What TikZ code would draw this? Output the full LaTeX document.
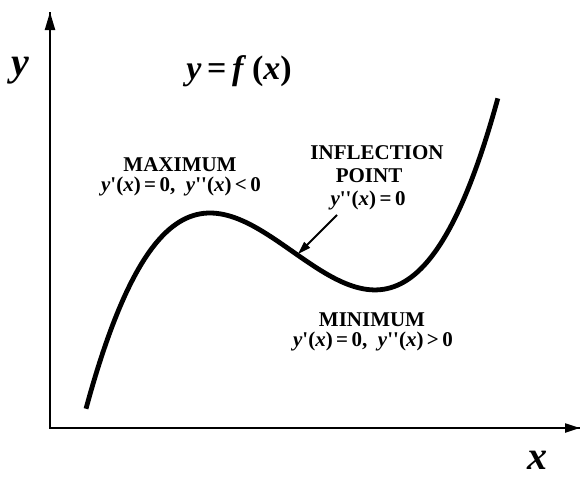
\documentclass[tikz,border=0pt]{standalone}
\usepackage{fontspec}
\newfontfamily\tnr{Liberation Serif}
\usetikzlibrary{arrows.meta}
\newcommand\vi[1]{\textit{#1}}
\begin{document}
\begin{tikzpicture}[x=1pt,y=-1pt,
  lbl/.style={font=\tnr\bfseries\fontsize{21}{23}\selectfont, inner sep=0pt, anchor=base},
  big/.style={font=\tnr\bfseries\itshape\fontsize{40}{44}\selectfont, inner sep=0pt, anchor=base},
  axis/.style={line width=2.2pt},
  curve/.style={line width=4.8pt}]
\useasboundingbox (0,0) rectangle (580,477);
\fill[white] (0,0) rectangle (580,477);
% axes
\coordinate (O) at (50,428);
\coordinate (ytip) at (50,12);
\coordinate (xtip) at (580,428);
\draw[axis] (ytip) -- (O) -- (xtip);
\draw[axis,-{Triangle[length=18pt,width=10pt]}] (50,100) -- (ytip);
\draw[axis,-{Triangle[length=15pt,width=9pt]}] (500,428) -- (xtip);
% curve
\draw[curve] plot[domain=-1.24:2.88,samples=120,smooth] ({210+100*\x},{213-34.27*\x*\x*\x+84.8*\x*\x});
% labels
\node[big] (ylab) at (20,75) {y};
\node[big] (xlab) at (537,469) {x};
\node[font=\tnr\bfseries\fontsize{34}{38}\selectfont, inner sep=0pt, anchor=base] (fx) at (239,79) {\vi{y}\,=\,\vi{f}\,(\vi{x})};
\node[lbl] (max1) at (180,171) {MAXIMUM};
\node[lbl] (max2) at (181,191) {\vi{y}'(\vi{x})\,=\,0,\ \ \vi{y}''(\vi{x})\,<\,0};
\node[lbl] (inf1) at (377,159) {INFLECTION};
\node[lbl] (inf2) at (369,182) {POINT};
\node[lbl] (inf3) at (368,205) {\vi{y}''(\vi{x})\,=\,0};
\node[lbl] (min1) at (372,326) {MINIMUM};
\node[lbl] (min2) at (373,346) {\vi{y}'(\vi{x})\,=\,0,\ \ \vi{y}''(\vi{x})\,>\,0};
\coordinate (ipt) at (298,254);
\coordinate (atail) at (337,215);
\draw[line width=1.8pt,-{Triangle[length=13pt,width=8pt]}] (atail) -- (ipt);
\end{tikzpicture}
\end{document}
